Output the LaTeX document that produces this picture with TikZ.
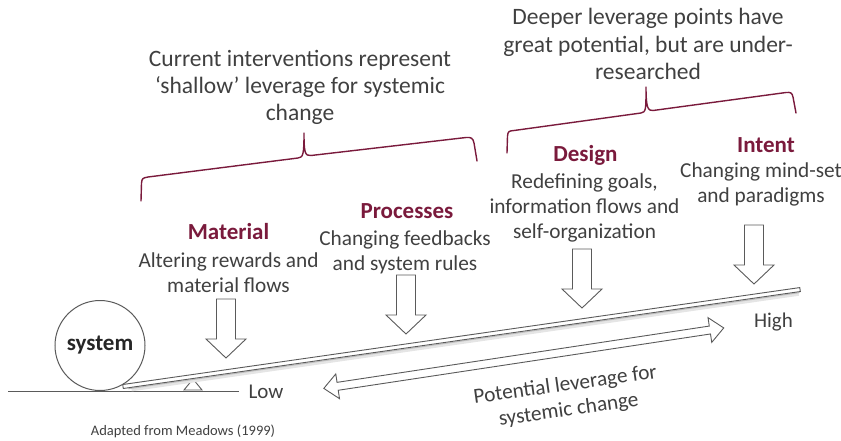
\documentclass[tikz,border=0pt]{standalone}
\usepackage{fontspec}
\setmainfont{Carlito}
\definecolor{maroon}{RGB}{122,26,60}
\definecolor{textgray}{RGB}{64,64,64}
\definecolor{linegray}{RGB}{90,90,90}
\begin{document}
\begin{tikzpicture}[x=1pt,y=-1pt,
  txt/.style={text=textgray, inner sep=0pt, align=center, font=\fontsize{21.3}{25}\selectfont},
  ttl/.style={text=maroon, inner sep=0pt, font=\fontsize{23}{27}\selectfont\bfseries},
  head/.style={text=textgray, inner sep=0pt, align=center, font=\fontsize{23.5}{27.3}\selectfont},
  brace/.style={draw=maroon, line width=1.4pt, line join=round, line cap=round},
  outline/.style={draw=linegray, line width=0.9pt, fill=white, line join=miter},
  pusharrow/.pic={\draw[outline] (-9.5,0) -- (9.5,0) -- (9.5,40) -- (20,40) -- (0,59)
                     -- (-20,40) -- (-9.5,40) -- cycle;},
]
\useasboundingbox (0,0) rectangle (841,440);

% ground, system ball and fulcrum
\draw[linegray, line width=0.9pt] (8,391) -- (239,391);
\node[circle, draw=linegray, line width=1pt, minimum size=90pt, inner sep=0pt,
      font=\fontsize{23}{27}\selectfont\bfseries, text=black!85] (sys) at (100,345.5) {system};
\draw[outline] (184,390) -- (193,379) -- (202,390) -- cycle;
\node[txt, font=\fontsize{21}{25}\selectfont] (low) at (266,392) {Low};

% lever plank with a soft shadow
\begin{scope}[shift={(123,386.5)}, rotate=8.15]
  \draw[black!10, line width=3pt] (8,4.5) -- (682,4.5);
  \draw[black!25, line width=1pt] (5,3) -- (683,3);
  \draw[outline] (0,-2) -- (684,-2) -- (684,2) -- (0,2) -- cycle;
\end{scope}
\node[txt, font=\fontsize{21}{25}\selectfont] (high) at (773.5,322) {High};

% double arrow along the lever
\coordinate (lowtip) at (323.8,388.4);
\begin{scope}[shift={(lowtip)}, rotate=8.6]
  \draw[outline] (0,0) -- (14,-12.5) -- (14,-4) -- (390.5,-4) -- (390.5,-12.5) -- (404.5,0)
     -- (390.5,12.5) -- (390.5,4) -- (14,4) -- (14,12.5) -- cycle;
\end{scope}
\node[txt, rotate=8] (pot) at (567,398) {Potential leverage for\\systemic change};

% pushing arrows
\pic at (226,299) {pusharrow};
\pic at (406,275) {pusharrow};
\pic at (582,249) {pusharrow};
\pic at (754,225) {pusharrow};

% leverage point labels
\node[ttl] (matT) at (228.5,232) {Material};
\node[txt] (matB) at (228.5,272.5) {Altering rewards and\\material flows};
\node[ttl] (procT) at (407,211) {Processes};
\node[txt] (procB) at (405,252) {Changing feedbacks\\and system rules};
\node[ttl] (desT) at (585.5,155) {Design};
\node[txt] (desB) at (584.5,208) {Redefining goals,\\information flows and\\self-organization};
\node[ttl] (intT) at (766,145) {Intent};
\node[txt] (intB) at (761,184.5) {Changing mind-set\\and paradigms};

% braces and their statements
\draw[brace] (141,201) -- (141.5,183) .. controls (142,178) and (143,178) .. (148,177)
  -- (298,158) .. controls (303,157.5) and (304,155) .. (304,133)
  .. controls (304,153) and (305,156) .. (311,155.5)
  -- (466,137.5) .. controls (471,137) and (473,138) .. (474,143) -- (477,161);
\draw[brace] (507,153) -- (507.5,136) .. controls (508,131) and (509,131) .. (514,130.5)
  -- (641,113) .. controls (646,112) and (646,110) .. (646,87)
  .. controls (646,108) and (648,111) .. (653,110.5)
  -- (786,92.5) .. controls (791,92) and (792,93) .. (793,97) -- (796,113);
\node[head] (shallow) at (300,87.5) {Current interventions represent\\‘shallow’ leverage for systemic\\change};
\node[head] (deeper) at (648,44) {Deeper leverage points have\\great potential, but are under-\\researched};

% source
\node[txt, font=\fontsize{14.5}{17}\selectfont] (src) at (183,431) {Adapted from Meadows (1999)};
\end{tikzpicture}
\end{document}
